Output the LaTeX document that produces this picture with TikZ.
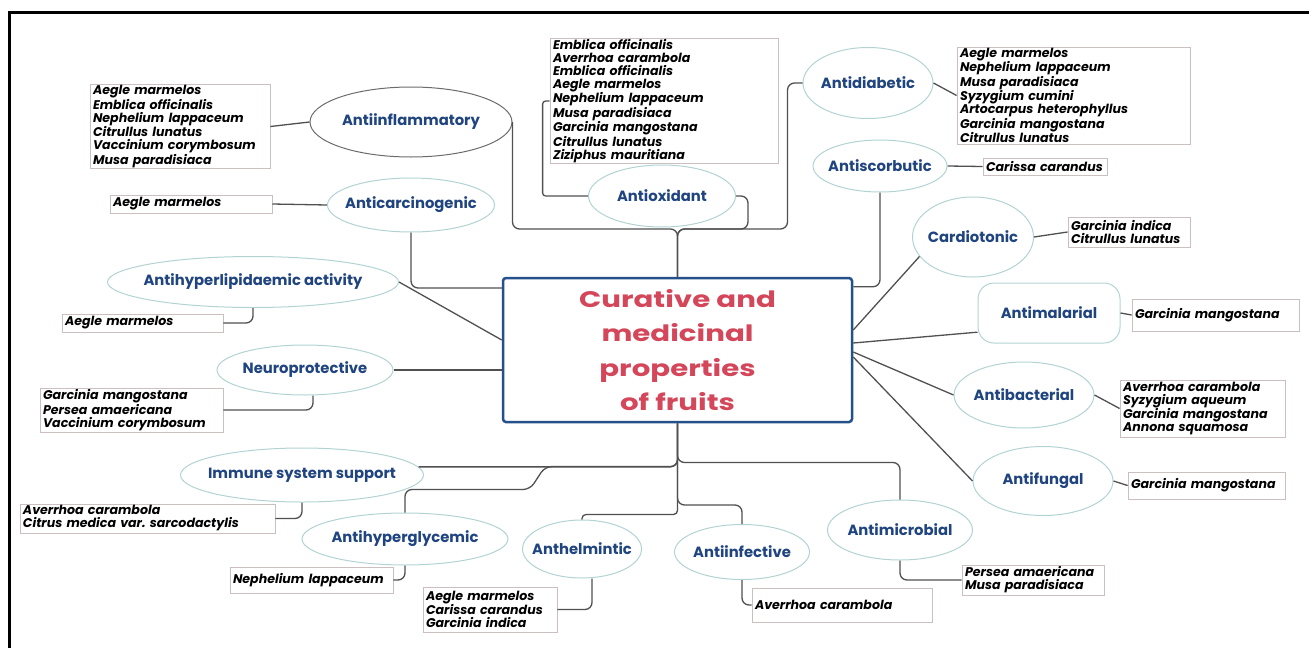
\documentclass[tikz,border=0pt]{standalone}
\usepackage{fontspec}
\setmainfont{Poppins}
\newfontfamily\titlefont{Poppins}[FakeStretch=1.3]
\usepackage{tikz}
\usetikzlibrary{shapes.geometric}
\definecolor{propblue}{HTML}{1F4480}
\definecolor{bubble}{HTML}{B3D3D3}
\definecolor{titlered}{HTML}{D4465A}
\definecolor{corebox}{HTML}{24508C}
\definecolor{linkgray}{HTML}{505050}
\definecolor{listedge}{HTML}{CBBFC0}
\frenchspacing

\begin{document}
\begin{tikzpicture}[x=1pt,y=-1pt,
	prop node/.style={ellipse,draw=bubble,line width=1pt,fill=white,text=propblue,
		font=\bfseries\fontsize{14.8}{16}\selectfont,inner xsep=-50pt,inner ysep=0pt},
	prop box/.style={prop node,rectangle,rounded corners=16pt,inner xsep=0pt},
	list node/.style={draw=listedge,line width=0.8pt,fill=white,align=left,
		inner xsep=3pt,inner ysep=1pt,font=\bfseries\itshape\fontsize{12.6}{13}\selectfont,text width=#1},
	link/.style={draw=linkgray,line width=1.3pt,rounded corners=7pt}]
	\useasboundingbox (0,0) rectangle (1309,648);
	\draw[line width=3pt] (9,648) -- (9,12) -- (1309,12);

	\node[draw=corebox,line width=2.5pt,rounded corners=3pt,minimum width=349pt,minimum height=144pt,
		text=titlered,align=center,font=\titlefont\bfseries\fontsize{22.5}{34.5}\selectfont] (core) at (677.5,350)
		{Curative and\\medicinal\\properties\\ of fruits};
	\coordinate (hubtop) at (677.5,229);

	\node[prop node,draw=gray!85!black,minimum width=202pt,minimum height=70pt] (infl) at (411,122) {Antiinflammatory};
	\node[prop node,minimum width=167pt,minimum height=54pt] (carc) at (411,205) {Anticarcinogenic};
	\node[prop node,minimum width=291pt,minimum height=51pt] (lipid) at (253,282) {Antihyperlipidaemic activity};
	\node[prop node,minimum width=176pt,minimum height=50pt] (neuro) at (305,370) {Neuroprotective};
	\node[prop node,minimum width=243pt,minimum height=54pt] (immune) at (302,475) {Immune system support};
	\node[prop node,minimum width=206pt,minimum height=52pt] (glyc) at (405,539) {Antihyperglycemic};
	\node[prop node,minimum width=119pt,minimum height=58pt] (helm) at (582,549) {Anthelmintic};
	\node[prop node,minimum width=135pt,minimum height=55pt] (infect) at (742,552) {Antiinfective};
	\node[prop node,minimum width=145pt,minimum height=60pt] (micro) at (900,530) {Antimicrobial};
	\node[prop node,minimum width=140pt,minimum height=69pt] (fungal) at (1043,481) {Antifungal};
	\node[prop node,minimum width=140pt,minimum height=66pt] (bact) at (1024,395) {Antibacterial};
	\node[prop box,minimum width=142pt,minimum height=60pt] (malar) at (1049,313) {Antimalarial};
	\node[prop node,minimum width=121pt,minimum height=80pt] (cardio) at (973,237) {Cardiotonic};
	\node[prop node,minimum width=134pt,minimum height=52pt] (scorb) at (880,166) {Antiscorbutic};
	\node[prop node,minimum width=130pt,minimum height=71pt] (diab) at (868,83) {Antidiabetic};
	\node[prop node,minimum width=147pt,minimum height=62pt] (oxid) at (662,196) {Antioxidant};

	\node[list node=174pt,minimum height=83pt] (inflList) at (180,126.5)
		{Aegle marmelos\\Emblica officinalis\\Nephelium lappaceum\\Citrullus lunatus\\Vaccinium corymbosum\\Musa paradisiaca};
	\node[list node=156pt,minimum height=18pt] (carcList) at (191,204) {Aegle marmelos};
	\node[list node=155pt,minimum height=18pt] (lipidList) at (142.5,323) {Aegle marmelos};
	\node[list node=177pt,minimum height=44pt] (neuroList) at (131.5,410)
		{Garcinia mangostana\\Persea amaericana\\Vaccinium corymbosum};
	\node[list node=249pt,minimum height=29pt] (immuneList) at (147.5,518.5)
		{Averrhoa carambola\\Citrus medica var. sarcodactylis};
	\node[list node=157pt,minimum height=26pt] (glycList) at (311.5,580) {Nephelium lappaceum};
	\node[list node=128pt,minimum height=45pt] (helmList) at (490,609.5)
		{Aegle marmelos\\Carissa carandus\\Garcinia indica};
	\node[list node=174pt,minimum height=34pt] (infectList) at (842,605) {Averrhoa carambola};
	\node[list node=136pt,minimum height=30pt] (microList) at (1033,580)
		{Persea amaericana\\Musa paradisiaca};
	\node[list node=151pt,minimum height=27pt] (fungalList) at (1206.5,485.5) {Garcinia mangostana};
	\node[list node=159pt,minimum height=57pt] (bactList) at (1202.5,408.5)
		{Averrhoa carambola\\Syzygium aqueum\\Garcinia mangostana\\Annona squamosa};
	\node[list node=161pt,minimum height=32pt] (malarList) at (1215.5,315) {Garcinia mangostana};
	\node[list node=116pt,minimum height=30pt] (cardioList) at (1129,232)
		{Garcinia indica\\Citrullus lunatus};
	\node[list node=118pt,minimum height=17pt] (scorbList) at (1045,166.5) {Carissa carandus};
	\node[list node=227pt,minimum height=95pt] (diabList) at (1073.5,95.5)
		{Aegle marmelos\\Nephelium lappaceum\\Musa paradisiaca\\Syzygium cumini\\Artocarpus heterophyllus\\Garcinia mangostana\\Citrullus lunatus};
	\node[list node=222pt,minimum height=122pt] (oxidList) at (664,101)
		{Emblica officinalis\\Averrhoa carambola\\Emblica officinalis\\Aegle marmelos\\Nephelium lappaceum\\Musa paradisiaca\\Garcinia mangostana\\Citrullus lunatus\\Ziziphus mauritiana};

	% branches above the box
	\draw[link] (infl.east) |- (hubtop) -- (core.north);
	\draw[link] (oxid.east) -- ++(12,0) |- (hubtop) -- (core.north);
	\draw[link] (diab.west) -- ++(-15,0) |- (hubtop) -- (core.north);
	\draw[link,rounded corners=3pt] (oxid.west) -| ([xshift=-7pt]oxidList.west) -- (oxidList.west);
	\draw[link] (inflList.east) -- (infl.west);
	\draw[link] (carcList.east) -- (carc.west);
	\draw[link] (diab.east) -- (diabList.west);
	\draw[link] (scorb.east) -- (scorbList.west);
	\draw[link] (scorb.south) |- ([yshift=-10pt]core.north east);

	% right side
	\draw[link] ([yshift=20pt]core.east) -- (cardio.200);
	\draw[link] ([yshift=7pt]core.east) -- (malar.195);
	\draw[link] ([yshift=-2pt]core.east) -- (bact.west);
	\draw[link] ([yshift=-7pt]core.east) -- (fungal.west);
	\draw[link] (cardio.east) -- (cardioList.west);
	\draw[link] (malar.east) -- (malarList.west);
	\draw[link] (bact.east) -- (bactList.west);
	\draw[link] (fungal.east) -- (fungalList.west);

	% left side
	\draw[link] (carc.south) |- ([yshift=62pt]core.west);
	\draw[link] (lipid.east) -- ([yshift=10pt]core.west);
	\draw[link] (neuro.east) -- (neuro.east -| core.west);
	\draw[link] (lipid.south) |- (lipidList.east);
	\draw[link] ([xshift=8pt]neuro.south) |- (neuroList.east);

	% branches below the box
	\draw[link] (immune.4) -| (core.south);
	\draw[link] (glyc.north) |- ++(125,-23) -- ++(15,-23) -| (core.south);
	\draw[link,rounded corners=4pt] (helm.north) -- ++(0,-5) -| (core.south);
	\draw[link] (infect.north) -- ++(0,-19) -| (core.south);
	\draw[link] (micro.north) -- ++(0,-37) -| (core.south);
	\draw[link] (immune.south) |- (immuneList.east);
	\draw[link] (glyc.south) |- (glycList.east);
	\draw[link] ([xshift=10pt]helm.south) |- (helmList.east);
	\draw[link] (infect.south) |- (infectList.west);
	\draw[link] (micro.south) |- (microList.west);
\end{tikzpicture}
\end{document}
